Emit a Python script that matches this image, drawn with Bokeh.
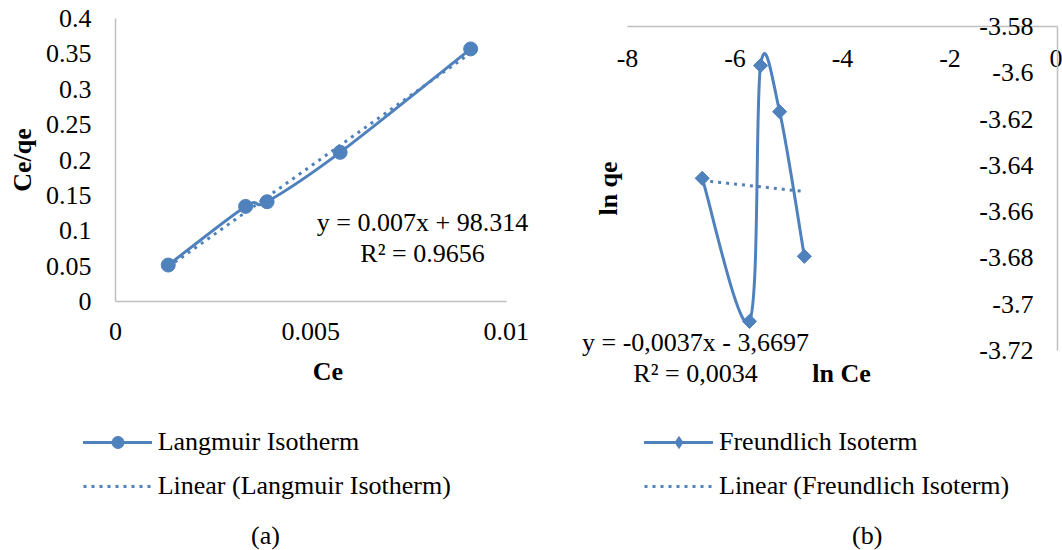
import math
import numpy as np
from bokeh.plotting import figure
from bokeh.models import (FixedTicker, CustomJSTickFormatter, Legend,
                          LegendItem, Label, Range1d)
from bokeh.embed import file_html
from bokeh.resources import INLINE

# ---------------- data ----------------
ce = [0.00135, 0.00333, 0.00388, 0.00575, 0.00909]          # Ce
ce_qe = [0.0515, 0.1344, 0.1410, 0.2108, 0.3570]            # Ce/qe
ln_ce = [-6.61, -5.73, -5.525, -5.17, -4.71]                # ln Ce
ln_qe = [-3.6456, -3.7074, -3.5969, -3.6168, -3.6793]       # ln qe

xticks_a = [0, 0.005, 0.01]
yticks_a = [0, 0.05, 0.1, 0.15, 0.2, 0.25, 0.3, 0.35, 0.4]
xticks_b = [-8, -6, -4, -2, 0]
yticks_b = [-3.72, -3.7, -3.68, -3.66, -3.64, -3.62, -3.6, -3.58]

eq_a = ["y = 0.007x + 98.314", "R\u00b2 = 0.9656"]
eq_b = ["y = -0,0037x - 3,6697", "R\u00b2 = 0,0034"]
legend_a = ["Langmuir Isotherm", "Linear (Langmuir Isotherm)"]
legend_b = ["Freundlich Isoterm", "Linear (Freundlich Isoterm)"]
titles_a = ["Ce", "Ce/qe"]
titles_b = ["ln Ce", "ln qe"]
captions = ["(a)", "(b)"]

# ---------------- style ----------------
BLUE = "#4F81BD"
AXIS = "#BFBFBF"
FONT = "Liberation Serif"
FS = "26px"
fmt = "return (+tick.toFixed(6)).toString();"


def smooth_ctrl(xs, ys):
    """Catmull-Rom style bezier control points (Excel-like smoothing)."""
    P = np.column_stack([xs, ys]).astype(float)
    n = len(P)
    out = {k: [] for k in ("x0", "y0", "x1", "y1", "cx0", "cy0", "cx1", "cy1")}
    for i in range(n - 1):
        p0 = P[i - 1] if i > 0 else P[i]
        p1, p2 = P[i], P[i + 1]
        p3 = P[i + 2] if i + 2 < n else P[i + 1]
        c1 = p1 + (p2 - p0) / 6.0
        c2 = p2 - (p3 - p1) / 6.0
        for k, v in (("x0", p1[0]), ("y0", p1[1]), ("x1", p2[0]), ("y1", p2[1]),
                     ("cx0", c1[0]), ("cy0", c1[1]), ("cx1", c2[0]), ("cy1", c2[1])):
            out[k].append(float(v))
    return out


def style_axis(ax):
    ax.axis_line_color = AXIS
    ax.axis_line_width = 1.5
    ax.major_tick_out = 0
    ax.major_tick_in = 0
    ax.minor_tick_out = 0
    ax.minor_tick_in = 0
    ax.major_label_text_font = FONT
    ax.major_label_text_font_size = FS
    ax.major_label_text_color = "black"
    ax.axis_label_text_font = FONT
    ax.axis_label_text_font_size = FS
    ax.axis_label_text_font_style = "bold"
    ax.axis_label_text_color = "black"
    ax.formatter = CustomJSTickFormatter(code=fmt)


def label(text, x, y, bold=False, angle=0.0):
    return Label(x=x, y=y, x_units="screen", y_units="screen", text=text,
                 text_align="center", text_baseline="middle", angle=angle,
                 text_font=FONT, text_font_size=FS, text_color="black",
                 text_font_style="bold" if bold else "normal")


def clean(p):
    p.outline_line_color = None
    p.background_fill_color = None
    p.border_fill_color = None
    p.xgrid.visible = False
    p.ygrid.visible = False


def place(p, left, top):
    p.styles = {"position": "absolute", "left": f"{left}px", "top": f"{top}px"}


# ================= (a) Langmuir =================
# frame (page px): x 115..540, y 18..301 ; x=0 at 115, x=0.01 at 505.7
A_W, A_H = 545, 400
a_l, a_r, a_t, a_b = 115, 540, 18, 301
a_x_end = 0.01 * (a_r - a_l) / (505.7 - a_l)
pa = figure(width=A_W, height=A_H, output_backend="svg", toolbar_location=None,
            x_range=Range1d(0, a_x_end), y_range=Range1d(0, 0.4),
            min_border_left=a_l, min_border_right=A_W - a_r,
            min_border_top=a_t, min_border_bottom=A_H - a_b)
clean(pa)
for ax in pa.xaxis + pa.yaxis:
    style_axis(ax)
pa.xaxis.ticker = FixedTicker(ticks=xticks_a)
pa.xaxis.bounds = (xticks_a[0], xticks_a[-1])
pa.yaxis.ticker = FixedTicker(ticks=yticks_a)
pa.xaxis.major_label_standoff = 21
pa.xaxis.axis_label = titles_a[0]
pa.xaxis.axis_label_standoff = 14
pa.yaxis.major_label_standoff = 24
pa.yaxis.axis_label = titles_a[1]
pa.yaxis.axis_label_standoff = 6

ka, ba = np.polyfit(ce, ce_qe, 1)
txa = [min(ce), max(ce)]
tr_a = pa.line(txa, [ka * v + ba for v in txa], line_color=BLUE, line_width=3,
               line_dash="3 5")
cv_a = pa.bezier(line_color=BLUE, line_width=3, line_cap="round",
                 **smooth_ctrl(ce, ce_qe))
pt_a = pa.scatter(ce, ce_qe, marker="circle", size=14, fill_color=BLUE,
                  line_color=BLUE)
pa.add_layout(label(eq_a[0], 422 - a_l, a_b - 222))
pa.add_layout(label(eq_a[1], 422 - a_l, a_b - 253))
place(pa, 0, 0)

# ================= (b) Freundlich =================
# figure at page x 540; frame (page px): x 575..1057, y 26..392
B_X, B_W, B_H = 540, 522, 400
b_l, b_r, b_t, b_b = 575, 1057, 26, 392
b_ax_bottom = 350                      # page y of -3.72
px_per_x = (1057 - 627) / 8.0
px_per_y = (b_ax_bottom - 26) / 0.14
b_x_start = -8 - (627 - b_l) / px_per_x
b_y_start = -3.72 - (b_b - b_ax_bottom) / px_per_y
pb = figure(width=B_W, height=B_H, output_backend="svg", toolbar_location=None,
            x_range=Range1d(b_x_start, 0), y_range=Range1d(b_y_start, -3.58),
            x_axis_location="above", y_axis_location=None,
            min_border_left=b_l - B_X, min_border_right=B_X + B_W - b_r,
            min_border_top=b_t, min_border_bottom=B_H - b_b)
clean(pb)
for ax in pb.xaxis:
    style_axis(ax)
pb.xaxis.ticker = FixedTicker(ticks=xticks_b)
pb.xaxis.bounds = (xticks_b[0], xticks_b[-1])
pb.xaxis.major_label_standoff = -40

kb, bb = np.polyfit(ln_ce, ln_qe, 1)
txb = [min(ln_ce), max(ln_ce)]
tr_b = pb.line(txb, [kb * v + bb for v in txb], line_color=BLUE, line_width=3,
               line_dash="3 5")
cv_b = pb.bezier(line_color=BLUE, line_width=3, line_cap="round",
                 **smooth_ctrl(ln_ce, ln_qe))
pt_b = pb.scatter(ln_ce, ln_qe, marker="square", size=10, angle=math.pi / 4,
                  fill_color=BLUE, line_color=BLUE)
pb.add_layout(label(eq_b[0], 695 - b_l, b_b - 341.7))
pb.add_layout(label(eq_b[1], 695 - b_l, b_b - 373))
pb.add_layout(label(titles_b[0], 841 - b_l, b_b - 373, bold=True))
pb.add_layout(label(titles_b[1], 608 - b_l, b_b - 188, bold=True,
                    angle=math.pi / 2))
place(pb, B_X, 0)

# y axis of (b): its line sits on the right edge of (b)'s frame,
# with labels to its left (as in the original)
Y_X, Y_W = 950, 112
py = figure(width=Y_W, height=B_H, output_backend="svg", toolbar_location=None,
            x_range=Range1d(0, 1), y_range=Range1d(yticks_b[0], yticks_b[-1]),
            x_axis_location=None, y_axis_location="left",
            min_border_left=b_r - Y_X, min_border_right=Y_X + Y_W - b_r - 5,
            min_border_top=b_t, min_border_bottom=B_H - b_ax_bottom)
clean(py)
for ax in py.yaxis:
    style_axis(ax)
py.yaxis.ticker = FixedTicker(ticks=yticks_b)
py.yaxis.major_label_standoff = 24
place(py, Y_X, 0)

# ================= legends and captions =================
L_TOP, L_W, L_H = 400, 1062, 150
pl = figure(width=L_W, height=L_H, output_backend="svg", toolbar_location=None,
            x_range=Range1d(10, 11), y_range=Range1d(10, 11),
            x_axis_location=None, y_axis_location=None, min_border=0)
clean(pl)

# legend keys drawn by the same series (outside this panel's view)
la_tr = pl.line(txa, [ka * v + ba for v in txa], line_color=BLUE,
                line_width=3, line_dash="3 5")
la_cv = pl.bezier(line_color=BLUE, line_width=3, line_cap="round",
                  **smooth_ctrl(ce, ce_qe))
la_pt = pl.scatter(ce, ce_qe, marker="circle", size=14, fill_color=BLUE,
                   line_color=BLUE)
lb_tr = pl.line(txb, [kb * v + bb for v in txb], line_color=BLUE,
                line_width=3, line_dash="3 5")
lb_cv = pl.bezier(line_color=BLUE, line_width=3, line_cap="round",
                  **smooth_ctrl(ln_ce, ln_qe))
lb_pt = pl.scatter(ln_ce, ln_qe, marker="diamond", size=16, fill_color=BLUE,
                   line_color=BLUE)

ITEM_H, SPACING = 30, 14
leg_h = 2 * ITEM_H + SPACING
leg_top = 441.7 - ITEM_H / 2 - L_TOP
vy = L_H - (leg_top + leg_h)


def make_legend(items, x):
    return Legend(items=items, location=(x, vy), orientation="vertical",
                  padding=0, spacing=SPACING, glyph_width=69,
                  glyph_height=ITEM_H, label_standoff=6, margin=0,
                  border_line_color=None, background_fill_alpha=0,
                  label_text_font=FONT, label_text_font_size=FS,
                  label_text_color="black")


pl.add_layout(make_legend([LegendItem(label=legend_a[0], renderers=[la_cv, la_pt]),
                           LegendItem(label=legend_a[1], renderers=[la_tr])], 82.7))
pl.add_layout(make_legend([LegendItem(label=legend_b[0], renderers=[lb_cv, lb_pt]),
                           LegendItem(label=legend_b[1], renderers=[lb_tr])], 644))
pl.add_layout(label(captions[0], 265, L_H - (535 - L_TOP)))
pl.add_layout(label(captions[1], 866.7, L_H - (535 - L_TOP)))
place(pl, 0, L_TOP)

open("out.html", "w").write(file_html([pa, pb, py, pl], INLINE))
